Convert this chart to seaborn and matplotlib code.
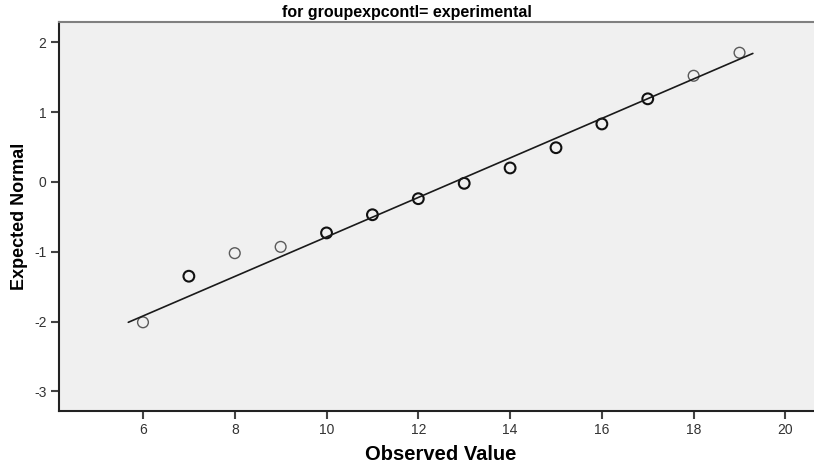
import pandas as pd
import seaborn as sns
import matplotlib
matplotlib.use("Agg")
import matplotlib.pyplot as plt

observed = [6, 7, 8, 9, 10, 11, 12, 13, 14, 15, 16, 17, 18, 19]
expected = [-2.01, -1.35, -1.02, -0.93, -0.73, -0.47, -0.24, -0.02, 0.20, 0.49, 0.83, 1.19, 1.52, 1.85]
# tied cases draw darker (several overlapping circles)
tied = [False, True, False, False, True, True, True, True, True, True, True, True, False, False]

# reference line ends
line_x = [5.68, 19.29]
line_y = [-2.01, 1.84]

x_ticks = [6, 8, 10, 12, 14, 16, 18, 20]
y_ticks = [-3, -2, -1, 0, 1, 2]

sns.set_style("white")
plt.rcParams['font.family'] = ['Liberation Sans', 'DejaVu Sans']
plt.rcParams['axes.unicode_minus'] = False

df = pd.DataFrame({"Observed Value": observed, "Expected Normal": expected, "tied": tied})

fig = plt.figure(figsize=(8.14, 4.71), dpi=100)
ax = fig.add_axes([59 / 814, 1 - 411 / 471, 1 - 59 / 814 + 0.01, (411 - 22) / 471])
ax.set_facecolor("#f0f0f0")

sns.lineplot(x=line_x, y=line_y, ax=ax, color="#1a1a1a", linewidth=1.2)
single = df[~df.tied]
multi = df[df.tied]
sns.scatterplot(data=single, x="Observed Value", y="Expected Normal", ax=ax,
                marker="o", s=60, facecolor="none", edgecolor="#5a5a5a", linewidth=1.0)
sns.scatterplot(data=multi, x="Observed Value", y="Expected Normal", ax=ax,
                marker="o", s=60, facecolor="none", edgecolor="#111111", linewidth=1.5)

ax.set_xlim(4.17, 20.8)
ax.set_ylim(-3.28, 2.29)
ax.set_xticks(x_ticks)
ax.set_yticks(y_ticks)
ax.tick_params(axis="both", direction="out", length=6, width=1.5, color="#444444",
               labelsize=10, labelcolor="#333333", left=True, bottom=True, pad=3)

for side in ["left", "bottom"]:
    ax.spines[side].set_color("#222222")
    ax.spines[side].set_linewidth(1.5)
ax.spines["top"].set_color("#808080")
ax.spines["top"].set_linewidth(1.5)
ax.spines["right"].set_visible(False)

ax.set_xlabel("Observed Value", fontsize=14.5, fontweight="bold", va="center", color="black")
ax.set_ylabel("Expected Normal", fontsize=13, fontweight="bold", va="center", color="black")
ax.xaxis.set_label_coords(0.5, (411 - 455) / 389)
ax.yaxis.set_label_coords((20 - 59) / 763, 0.5)
fig.text(0.5, 1 - 13 / 471, "for groupexpcontl= experimental", ha="center", va="center",
         fontsize=11.5, fontweight="bold", color="black")

fig.savefig("out.png", dpi=100)
